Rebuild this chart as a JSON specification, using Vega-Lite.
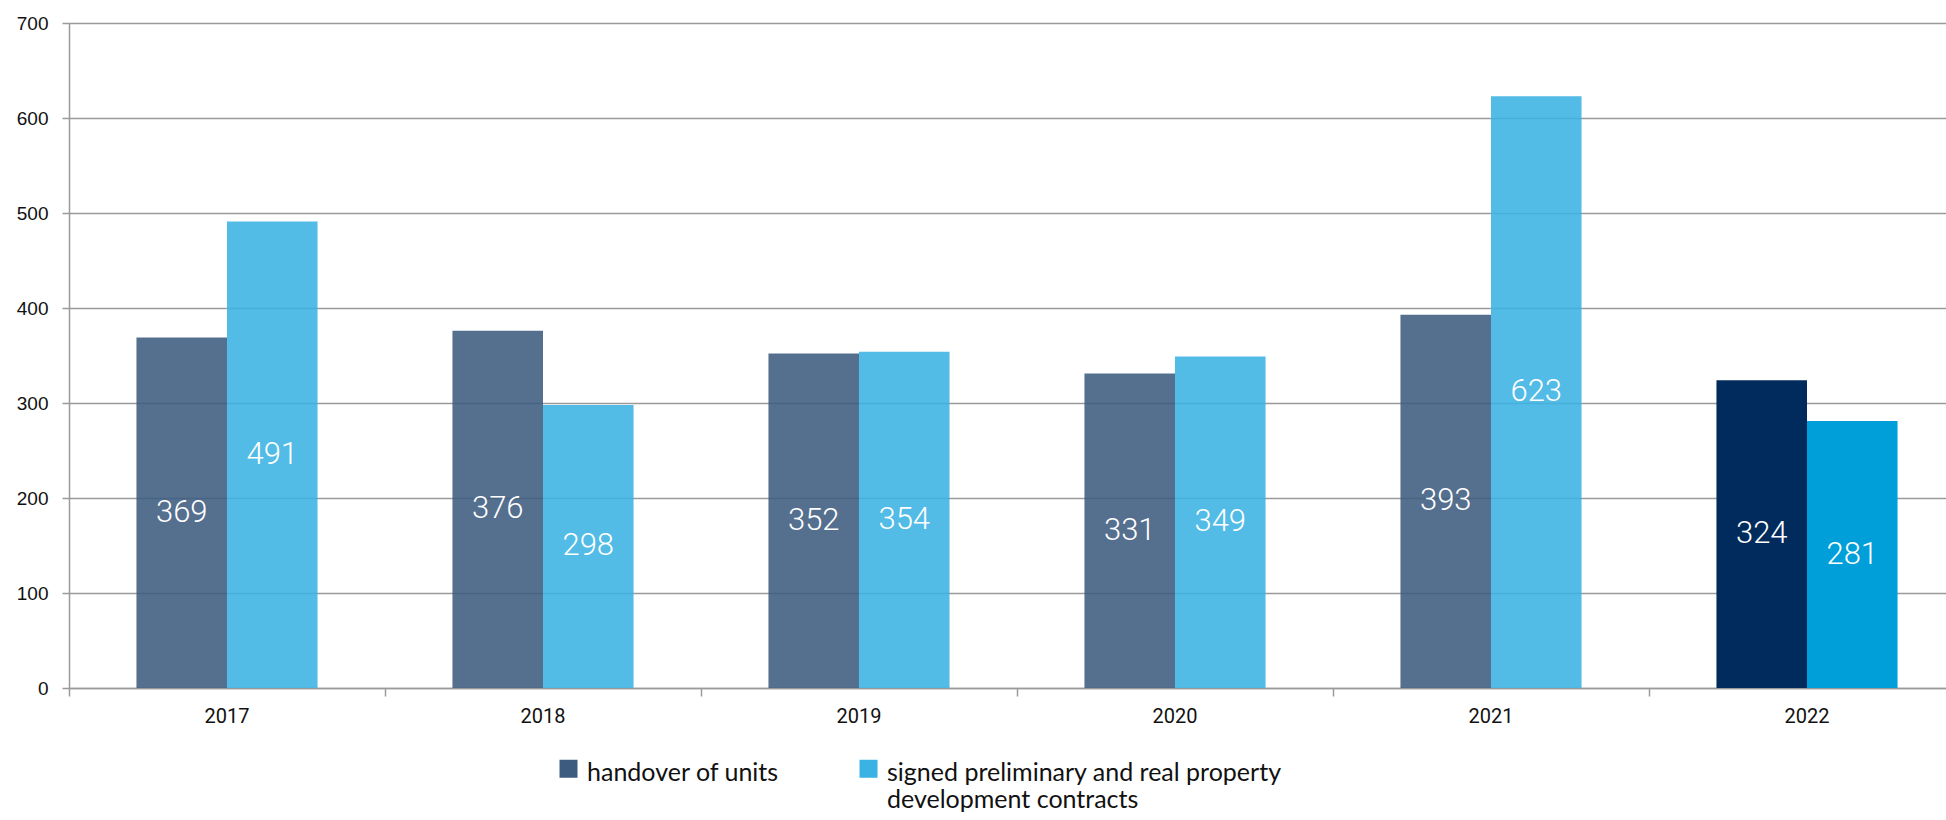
{
  "$schema": "https://vega.github.io/schema/vega-lite/v6.json",
  "width": 1877,
  "height": 665,
  "autosize": {"type": "none"},
  "padding": {"left": 69, "top": 23, "right": 0, "bottom": 132},
  "background": "white",
  "config": {"view": {"stroke": null}},
  "data": {
    "values": [
      {"year": "2017", "series": "handover of units", "value": 369},
      {"year": "2017", "series": "signed preliminary and real property development contracts", "value": 491},
      {"year": "2018", "series": "handover of units", "value": 376},
      {"year": "2018", "series": "signed preliminary and real property development contracts", "value": 298},
      {"year": "2019", "series": "handover of units", "value": 352},
      {"year": "2019", "series": "signed preliminary and real property development contracts", "value": 354},
      {"year": "2020", "series": "handover of units", "value": 331},
      {"year": "2020", "series": "signed preliminary and real property development contracts", "value": 349},
      {"year": "2021", "series": "handover of units", "value": 393},
      {"year": "2021", "series": "signed preliminary and real property development contracts", "value": 623},
      {"year": "2022", "series": "handover of units", "value": 324},
      {"year": "2022", "series": "signed preliminary and real property development contracts", "value": 281}
    ]
  },
  "encoding": {
    "x": {"field": "year", "type": "nominal", "scale": {"paddingInner": 0, "paddingOuter": 0, "range": [0, 1896]}},
    "xOffset": {"field": "series", "type": "nominal", "sort": ["handover of units", "signed preliminary and real property development contracts"], "scale": {"paddingInner": 0, "paddingOuter": 0.745}}
  },
  "layer": [
    {
      "mark": {"type": "bar"},
      "encoding": {
        "x": {"field": "year", "type": "nominal", "axis": {"orient": "bottom", "title": null, "labels": false, "bandPosition": 0, "ticks": true, "tickSize": 8, "tickColor": "#9a9a9a", "tickWidth": 1.5, "domain": true, "domainColor": "#9a9a9a", "domainWidth": 1.5}},
        "y": {
          "field": "value", "type": "quantitative",
          "scale": {"domain": [0, 700], "nice": false},
          "axis": {"title": null, "values": [0, 100, 200, 300, 400, 500, 600, 700], "grid": true, "gridColor": "#9a9a9a", "gridWidth": 1.5, "domainColor": "#9a9a9a", "domainWidth": 1.5, "tickColor": "#9a9a9a", "tickWidth": 1.5, "tickSize": 7, "labelFont": "Liberation Sans", "labelFontSize": 19, "labelColor": "#111", "labelPadding": 14}
        },
        "color": {
          "field": "series", "type": "nominal",
          "condition": [
            {"test": "datum.year === '2022' && datum.series === 'handover of units'", "value": "#002B5C"},
            {"test": "datum.year === '2022' && datum.series !== 'handover of units'", "value": "#009FDA"}
          ],
          "scale": {"domain": ["handover of units", "signed preliminary and real property development contracts"], "range": ["#3D5B7F", "#3AB2E3"]},
          "legend": {
            "title": null, "orient": "none", "direction": "horizontal", "columns": 2,
            "legendX": 487, "legendY": 725,
            "symbolType": "M-1,-0.11H1V1.89H-1Z", "symbolSize": 324, "symbolStrokeWidth": 0,
            "labelFont": "Lato", "labelFontSize": 25, "labelColor": "#111", "labelLimit": 1000,
            "labelOffset": 6, "columnPadding": 76, "labelBaseline": "top", "labelLineHeight": 41,
            "labelExpr": "datum.label === 'signed preliminary and real property development contracts' ? ['signed preliminary and real property', 'development contracts'] : [datum.label, '']"
          }
        },
        "opacity": {"condition": {"test": "datum.year === '2022'", "value": 1}, "value": 0.88}
      }
    },
    {
      "mark": {"type": "text", "color": "white", "font": "Roboto", "fontWeight": 300, "fontSize": 31, "baseline": "middle", "align": "center"},
      "encoding": {
        "x": {"field": "year", "type": "nominal", "axis": {"orient": "bottom", "title": null, "labels": true, "ticks": false, "domain": false, "labelFont": "Roboto", "labelFontSize": 20, "labelColor": "#111", "labelPadding": 18, "labelAngle": 0}},
        "y": {"field": "value", "type": "quantitative", "scale": {"domain": [0, 1400], "nice": false}, "axis": null},
        "text": {"field": "value", "type": "quantitative"}
      }
    }
  ],
  "resolve": {"scale": {"y": "independent"}, "axis": {"x": "independent"}}
}
